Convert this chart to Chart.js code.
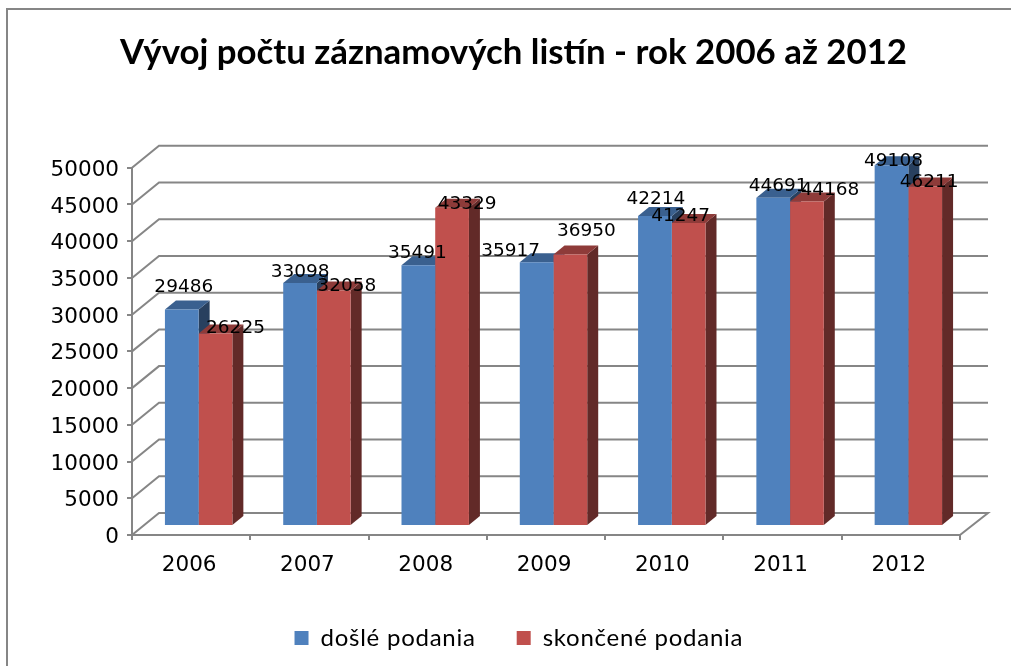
<!DOCTYPE html>
<html><head><meta charset="utf-8">
<style>html,body{margin:0;padding:0;background:#fff}#w{width:1011px;height:666px}canvas{display:block}</style>
<script src="https://cdn.jsdelivr.net/npm/chart.js@4"></script>
</head><body><div id="w"><canvas id="c" width="1011" height="666"></canvas></div>
<script>
const categories = ['2006','2007','2008','2009','2010','2011','2012'];
const dosle = [29486,33098,35491,35917,42214,44691,49108];
const skoncene = [26225,32058,43329,36950,41247,44168,46211];
const chartTitle = 'Vývoj počtu záznamových listín - rok 2006 až 2012';
const seriesNames = ['došlé podania','skončené podania'];
// hand-placed data label nudges, relative to each bar's front-top centre (px)
const labelNudge = [
  [[2,-22],[0,-11],[-1,-12],[-26,-11],[1,-17],[5,-12],[2,-4]],
  [[20,-5],[13,-4],[15,-4],[16,-23],[-8,-7],[23,-11],[4,-4]]
];
const GRAY='#868686', DX=27, DY=-22, BX=7.5, BY=-9, SX=11, SY=-9;
const faces=[{top:'#3A608F',side:'#28405F'},{top:'#8E3B39',side:'#622A28'}];

const plugin3d={
  id:'plugin3d',
  beforeDraw(chart){
    const c=chart.ctx;c.save();c.fillStyle='#fff';c.fillRect(0,0,chart.width,chart.height);
    c.strokeStyle=GRAY;c.lineWidth=2;c.beginPath();c.moveTo(7,666);c.lineTo(7,9);c.lineTo(1011,9);c.stroke();c.restore();
  },
  beforeDatasetsDraw(chart){
    const c=chart.ctx,y=chart.scales.y,a=chart.chartArea;
    c.save();c.strokeStyle=GRAY;c.lineWidth=2;
    y.ticks.forEach(t=>{const p=y.getPixelForValue(t.value);
      c.beginPath();c.moveTo(a.left,p);c.lineTo(a.left+DX,p+DY);c.lineTo(a.right+DX+1,p+DY);
      if(t.value===0)c.lineTo(a.right,p);
      c.stroke();});
    c.restore();
    c.save();c.translate(BX,BY);
    chart.data.datasets.forEach((d,di)=>{
      chart.getDatasetMeta(di).data.forEach(b=>{
        const l=b.x-b.width/2,r=b.x+b.width/2,t=b.y,g=b.base;
        c.fillStyle=faces[di].side;c.beginPath();c.moveTo(r,t);c.lineTo(r+SX,t+SY);c.lineTo(r+SX,g+SY);c.lineTo(r,g);c.closePath();c.fill();
        c.fillStyle=faces[di].top;c.beginPath();c.moveTo(l,t);c.lineTo(l+SX,t+SY);c.lineTo(r+SX,t+SY);c.lineTo(r,t);c.closePath();c.fill();
      });
    });
  },
  afterDatasetsDraw(chart){
    const c=chart.ctx;c.restore();
    c.save();c.fillStyle='#000';c.font='18.5px "DejaVu Sans"';c.textAlign='center';c.textBaseline='middle';
    chart.data.datasets.forEach((d,di)=>{
      chart.getDatasetMeta(di).data.forEach((b,i)=>{
        const n=labelNudge[di][i];
        c.fillText(String(d.data[i]),b.x+BX+n[0],b.y+BY+n[1]);
      });
    });
    c.restore();
  },
  afterLayout(chart){
    chart.titleBlock.left+=33.5;chart.titleBlock.right+=33.5;
    const lg=chart.legend;
    lg.left+=28;lg.right+=28;lg.top-=6;lg.bottom-=6;
    if(!lg._spaced){
      lg._spaced=true;
      const orig=lg.draw;
      lg.draw=function(){
        const c=this.ctx,keep=c.letterSpacing;
        c.letterSpacing='0.75px';
        orig.call(this);
        c.letterSpacing=keep;
      };
    }
  }
};

new Chart(document.getElementById('c'),{
  type:'bar',
  data:{labels:categories,datasets:[
    {label:seriesNames[0],data:dosle,backgroundColor:'#4F81BD'},
    {label:seriesNames[1],data:skoncene,backgroundColor:'#C0504D'}
  ]},
  plugins:[plugin3d],
  options:{
    responsive:false,animation:false,
    layout:{padding:{left:0,right:51,top:0,bottom:0}},
    datasets:{bar:{categoryPercentage:0.57,barPercentage:1}},
    plugins:{
      tooltip:{enabled:false},
      title:{display:true,text:chartTitle,color:'#000',font:{family:'Lato',weight:'bold',size:34.8},padding:{top:32,bottom:94}},
      legend:{position:'bottom',labels:{color:'#000',font:{family:'Lato',size:24},boxWidth:14,boxHeight:14,padding:41}}
    },
    scales:{
      x:{
        afterFit(s){s.height=56;},
        grid:{drawOnChartArea:false,drawTicks:true,tickLength:5,color:GRAY,lineWidth:2},
        border:{color:GRAY,width:2},
        ticks:{color:'#000',font:{family:'DejaVu Sans',size:21.5},padding:13,maxRotation:0,labelOffset:-2}
      },
      y:{
        min:0,max:50000,
        afterFit(s){s.width=132;},
        grid:{drawOnChartArea:false,drawTicks:true,tickLength:5,color:GRAY,lineWidth:2},
        border:{color:GRAY,width:2},
        ticks:{color:'#000',font:{family:'DejaVu Sans',size:21.5},stepSize:5000,padding:8,labelOffset:2.5,callback:v=>String(v)}
      }
    }
  }
});
</script></body></html>
